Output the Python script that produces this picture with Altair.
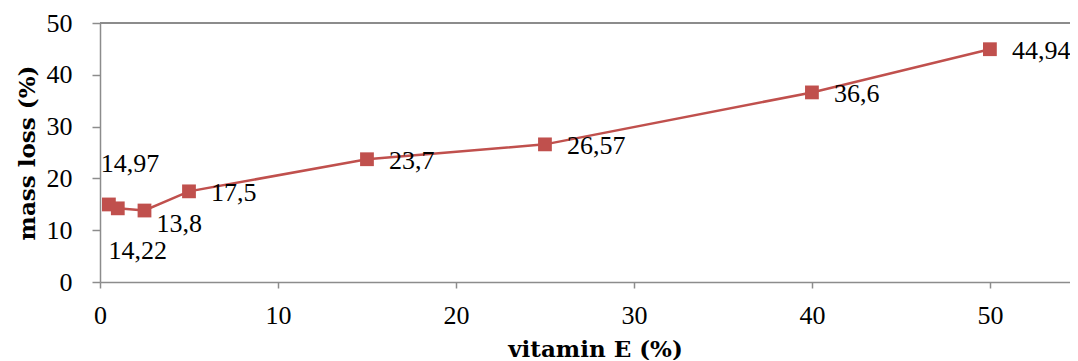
import altair as alt
import pandas as pd

vitamin_e = [0.5, 1, 2.5, 5, 15, 25, 40, 50]
mass_loss = [14.97, 14.22, 13.8, 17.5, 23.7, 26.57, 36.6, 44.94]
labels = ["14,97", "14,22", "13,8", "17,5", "23,7", "26,57", "36,6", "44,94"]

x_ticks = [0, 10, 20, 30, 40, 50]
y_ticks = [0, 10, 20, 30, 40, 50]

df = pd.DataFrame({"x": vitamin_e, "y": mass_loss, "label": labels})

FONT = "Liberation Serif"
TFONT = "DejaVu Serif"
RED = "#C0504D"
GRAY = "#8C8C8C"
W, H = 970, 259
FS = 26

xs = alt.Scale(domain=[0, 54.5], nice=False, zero=False)
ys = alt.Scale(domain=[0, 50], nice=False)

x_enc = alt.X("x:Q", scale=xs, axis=alt.Axis(
    values=x_ticks, title="vitamin E (%)", grid=False, tickSize=6,
    labelPadding=14, labelFlush=False, titleX=495, titleY=74,
    titleBaseline="alphabetic", titleAlign="center"))
y_enc = alt.Y("y:Q", scale=ys, axis=alt.Axis(
    values=y_ticks, title="mass loss (%)", grid=False, tickSize=8,
    labelPadding=20, titleX=-73, titleY=H / 2, titleAngle=270,
    titleBaseline="middle", titleAlign="center"))

base = alt.Chart(df)

line = base.mark_line(color=RED, strokeWidth=2.5).encode(x=x_enc, y=y_enc)
pts = base.mark_point(shape="square", filled=True, opacity=1, color=RED, size=190).encode(x="x:Q", y="y:Q")

def lab(sel, **kw):
    return base.transform_filter(alt.FieldOneOfPredicate(field="label", oneOf=sel)).mark_text(
        font=FONT, fontSize=FS, color="black", baseline="middle", **kw
    ).encode(x="x:Q", y="y:Q", text="label:N")

t1 = lab([labels[0]], align="center", dx=21, dy=-40)
t2 = lab([labels[1]], align="center", dx=20, dy=43)
t3 = lab([labels[2]], align="left", dx=12, dy=13)
t4 = lab(labels[3:], align="left", dx=22, dy=2)

top = alt.Chart(df).mark_rule(color=GRAY, strokeWidth=1.5).encode(
    x=alt.value(0), x2=alt.value(W), y=alt.value(0))

chart = alt.layer(top, line, pts, t1, t2, t3, t4).properties(
    width=W, height=H,
    autosize=alt.AutoSizeParams(type="none"),
    padding={"left": 92, "top": 15, "right": 0, "bottom": 78},
).configure_view(stroke=None).configure_axis(
    domainColor=GRAY, domainWidth=1.5, tickColor=GRAY, tickWidth=1.5,
    labelFont=FONT, labelFontSize=FS, labelColor="black",
    titleFont=TFONT, titleFontSize=23, titleFontWeight="bold", titleColor="black",
)

chart.save("out.html", embed_options={"renderer": "svg", "actions": False})
